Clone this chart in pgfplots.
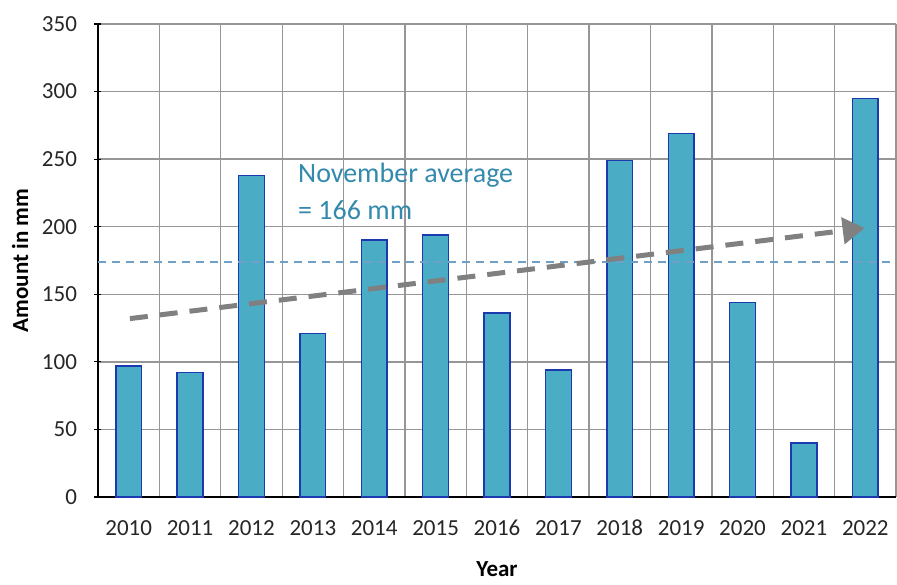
\documentclass[border=0pt]{standalone}
\usepackage{fontspec}
\setmainfont{Carlito}
\usepackage{pgfplots}
\pgfplotsset{compat=1.18}
\usetikzlibrary{arrows.meta}
\definecolor{barfill}{RGB}{75,172,198}
\definecolor{barline}{RGB}{28,58,175}
\definecolor{gridc}{RGB}{150,150,150}
\definecolor{avgline}{RGB}{110,160,200}
\definecolor{avgtext}{RGB}{52,138,172}
\definecolor{trend}{RGB}{128,128,128}
\begin{document}
\begin{tikzpicture}
\begin{axis}[
  scale only axis,
  width=798pt, height=473pt,
  xmin=-0.5, xmax=12.5,
  ymin=0, ymax=350,
  ytick={0,50,...,350},
  xtick={0,...,12},
  xticklabels={2010,2011,2012,2013,2014,2015,2016,2017,2018,2019,2020,2021,2022},
  minor xtick={-0.5,0.5,...,12.5},
  xtick style={draw=none},
  minor x tick style={black, line width=1.2pt},
  y tick style={black, line width=1.2pt},
  tick align=outside,
  major tick length=7pt,
  minor tick length=9pt,
  ymajorgrids, xminorgrids,
  grid style={gridc, line width=1.3pt},
  minor grid style={gridc, line width=1.3pt},
  axis lines=left,
  axis line style={-, black, line width=1.5pt},
  /pgf/number format/assume math mode=true,
  ticklabel style={font=\fontsize{23}{27}\selectfont, text=black!85},
  yticklabel style={xshift=-14pt},
  xticklabel style={yshift=-25pt, text height=0.65em, text depth=0pt},
  xlabel={\textbf{Year}},
  ylabel={\textbf{Amount in mm}},
  label style={font=\fontsize{23}{27}\selectfont},
  xlabel style={at={(axis description cs:0.5,-0.152)}, anchor=center},
  ylabel style={at={(axis description cs:-0.0977,0.5)}, anchor=center},
  clip=false,
]
\addplot[ybar, bar width=0.42, fill=barfill, draw=barline, line width=1.5pt]
  coordinates {(0,97) (1,92) (2,238) (3,121) (4,190) (5,194) (6,136) (7,94) (8,249) (9,269) (10,144) (11,40) (12,295)};
\addplot[avgline, line width=1.6pt, dash pattern=on 8pt off 6pt] coordinates {(-0.5,174) (12.5,174)};
\addplot[trend, line width=5pt, dash pattern=on 18pt off 12pt, -{Triangle[length=22pt,width=26pt]}] coordinates {(0.02,132) (11.99,199)};
\node[anchor=base west, text=avgtext, font=\fontsize{28}{32}\selectfont, inner sep=0pt] at (axis cs:2.758,233) {November average};
\node[anchor=base west, text=avgtext, font=\fontsize{28}{32}\selectfont, inner sep=0pt] at (axis cs:2.758,205) {= 166 mm};
\end{axis}
\pgfresetboundingbox
\useasboundingbox (-98pt,-88pt) rectangle (799pt,497pt);
\end{tikzpicture}
\end{document}
